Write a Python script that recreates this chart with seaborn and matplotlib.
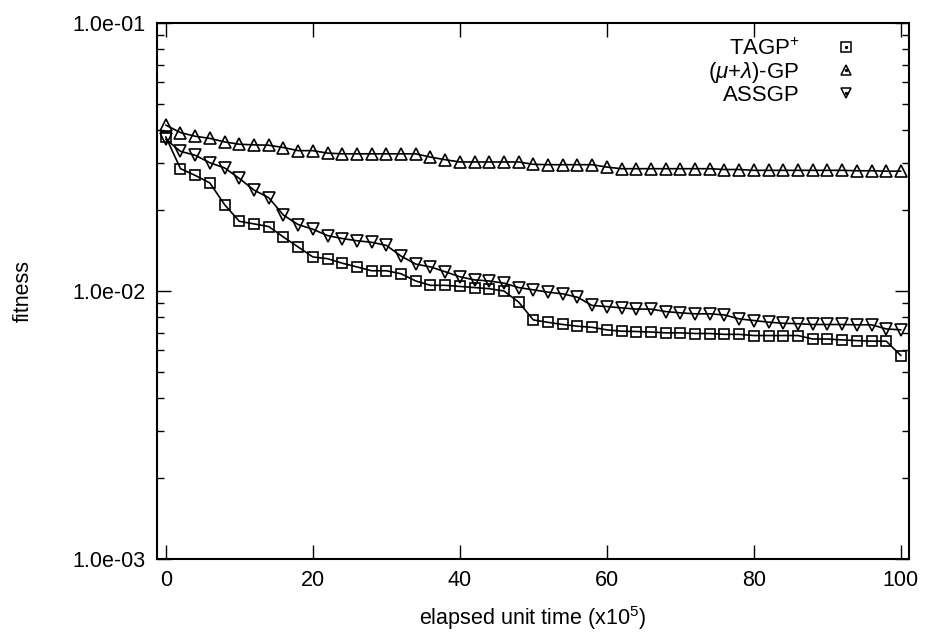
import numpy as np
import pandas as pd
import matplotlib
matplotlib.use("Agg")
import matplotlib.pyplot as plt
from matplotlib.lines import Line2D
from matplotlib.legend_handler import HandlerTuple
from matplotlib.ticker import FixedLocator, LogLocator, NullFormatter, FuncFormatter
import seaborn as sns

# elapsed unit time (x10^5), sampled every 2 units
time = list(range(0, 101, 2))

tagp_plus = [
    0.0376, 0.0286, 0.0270, 0.0253, 0.0210, 0.0182, 0.0178, 0.0174, 0.0159, 0.0146,
    0.0134, 0.0132, 0.0127, 0.0123, 0.0119, 0.0119, 0.0116, 0.0109, 0.0105, 0.0105,
    0.0104, 0.0103, 0.0102, 0.0100, 0.00909, 0.00780, 0.00764, 0.00750, 0.00739, 0.00732,
    0.00716, 0.00708, 0.00706, 0.00703, 0.00698, 0.00698, 0.00694, 0.00694, 0.00689, 0.00689,
    0.00682, 0.00682, 0.00682, 0.00682, 0.00662, 0.00662, 0.00657, 0.00653, 0.00650, 0.00650,
    0.00574,
]

mu_lambda_gp = [
    0.0416, 0.0390, 0.0378, 0.0371, 0.0360, 0.0353, 0.0351, 0.0350, 0.0343, 0.0334,
    0.0334, 0.0327, 0.0325, 0.0325, 0.0325, 0.0325, 0.0325, 0.0325, 0.0316, 0.0309,
    0.0303, 0.0303, 0.0303, 0.0303, 0.0303, 0.0297, 0.0296, 0.0296, 0.0296, 0.0296,
    0.0290, 0.0286, 0.0286, 0.0286, 0.0286, 0.0286, 0.0286, 0.0286, 0.0284, 0.0284,
    0.0282, 0.0282, 0.0282, 0.0282, 0.0282, 0.0282, 0.0282, 0.0281, 0.0281, 0.0280,
    0.0280,
]

assgp = [
    0.0368, 0.0332, 0.0321, 0.0301, 0.0288, 0.0263, 0.0238, 0.0223, 0.0192, 0.0177,
    0.0170, 0.0161, 0.0157, 0.0154, 0.0152, 0.0148, 0.0135, 0.0126, 0.0123, 0.0118,
    0.0113, 0.0110, 0.0109, 0.0107, 0.0103, 0.0101, 0.00990, 0.00976, 0.00948, 0.00883,
    0.00875, 0.00865, 0.00856, 0.00856, 0.00838, 0.00829, 0.00822, 0.00822, 0.00814, 0.00787,
    0.00776, 0.00765, 0.00758, 0.00755, 0.00750, 0.00750, 0.00750, 0.00748, 0.00748, 0.00722,
    0.00716,
]

series_labels = ["TAGP$^{+}$", r"($\mu$+$\lambda$)-GP", "ASSGP"]
series_markers = ["s", "^", "v"]
y_ticks = [1e-3, 1e-2, 1e-1]
x_ticks = [0, 20, 40, 60, 80, 100]

sns.set_theme(style="ticks")
plt.rcParams["font.family"] = ["Liberation Sans", "DejaVu Sans"]
plt.rcParams["mathtext.fontset"] = "custom"
plt.rcParams["mathtext.rm"] = "Liberation Sans"
plt.rcParams["mathtext.it"] = "Liberation Sans:italic"
plt.rcParams["mathtext.bf"] = "Liberation Sans:bold"
for key in ["text.color", "axes.labelcolor", "xtick.color", "ytick.color",
            "xtick.labelcolor", "ytick.labelcolor", "axes.edgecolor"]:
    plt.rcParams[key] = "black"

fig = plt.figure(figsize=(9.25, 6.34), dpi=100)
ax = fig.add_axes([0.1697, 0.1183, 0.8130, 0.8454])

frames = []
for lab, vals in zip(series_labels, [tagp_plus, mu_lambda_gp, assgp]):
    frames.append(pd.DataFrame({"time": time, "fitness": vals, "method": lab}))
df = pd.concat(frames, ignore_index=True)

for lab, mk in zip(series_labels, series_markers):
    sub = df[df["method"] == lab]
    sns.lineplot(
        data=sub, x="time", y="fitness", ax=ax, color="black",
        marker=mk, markersize=8.3 if mk != "s" else 7.6,
        markerfacecolor="none", markeredgecolor="black", markeredgewidth=1.2,
        linewidth=1.2, legend=False, zorder=3,
    )

ax.set_yscale("log")
ax.set_ylim(1e-3, 1e-1)
ax.set_xlim(-1.2, 101.1)

ax.xaxis.set_major_locator(FixedLocator(x_ticks))
ax.yaxis.set_major_locator(FixedLocator(y_ticks))
ax.yaxis.set_major_formatter(FuncFormatter(lambda v, p: f"{v:.1e}"))
ax.yaxis.set_minor_locator(LogLocator(base=10, subs=np.arange(2, 10)))
ax.yaxis.set_minor_formatter(NullFormatter())

ax.tick_params(which="both", direction="in", top=True, right=True,
               color="black", labelcolor="black", labelsize=15.5, width=1.0)
ax.tick_params(which="major", length=10, pad=8)
ax.tick_params(which="minor", length=5)
ax.tick_params(axis="x", which="minor", bottom=False, top=False)

for sp in ax.spines.values():
    sp.set_linewidth(1.5)
    sp.set_color("black")

ax.set_xlabel("elapsed unit time (x10$^{5}$)", fontsize=15.5, labelpad=9, color="black")
ax.set_ylabel("fitness", fontsize=15.5, labelpad=28, color="black")

handles = []
for mk in series_markers:
    shape = Line2D([], [], linestyle="none", marker=mk, markersize=7.6,
                   markerfacecolor="none", markeredgecolor="black", markeredgewidth=1.1)
    dot = Line2D([], [], linestyle="none", marker="o", markersize=1.4,
                 markerfacecolor="black", markeredgecolor="black")
    handles.append((shape, dot))

leg = ax.legend(handles, series_labels, loc="upper right",
                bbox_to_anchor=(0.955, 1.0), frameon=False, markerfirst=False,
                fontsize=16, handlelength=1.2, handletextpad=1.5,
                labelspacing=0.0, borderaxespad=0.3,
                handler_map={tuple: HandlerTuple(ndivide=1)})
for t in leg.get_texts():
    t.set_ha("right")
    t.set_color("black")

fig.savefig("out.png", dpi=100, facecolor="white")
